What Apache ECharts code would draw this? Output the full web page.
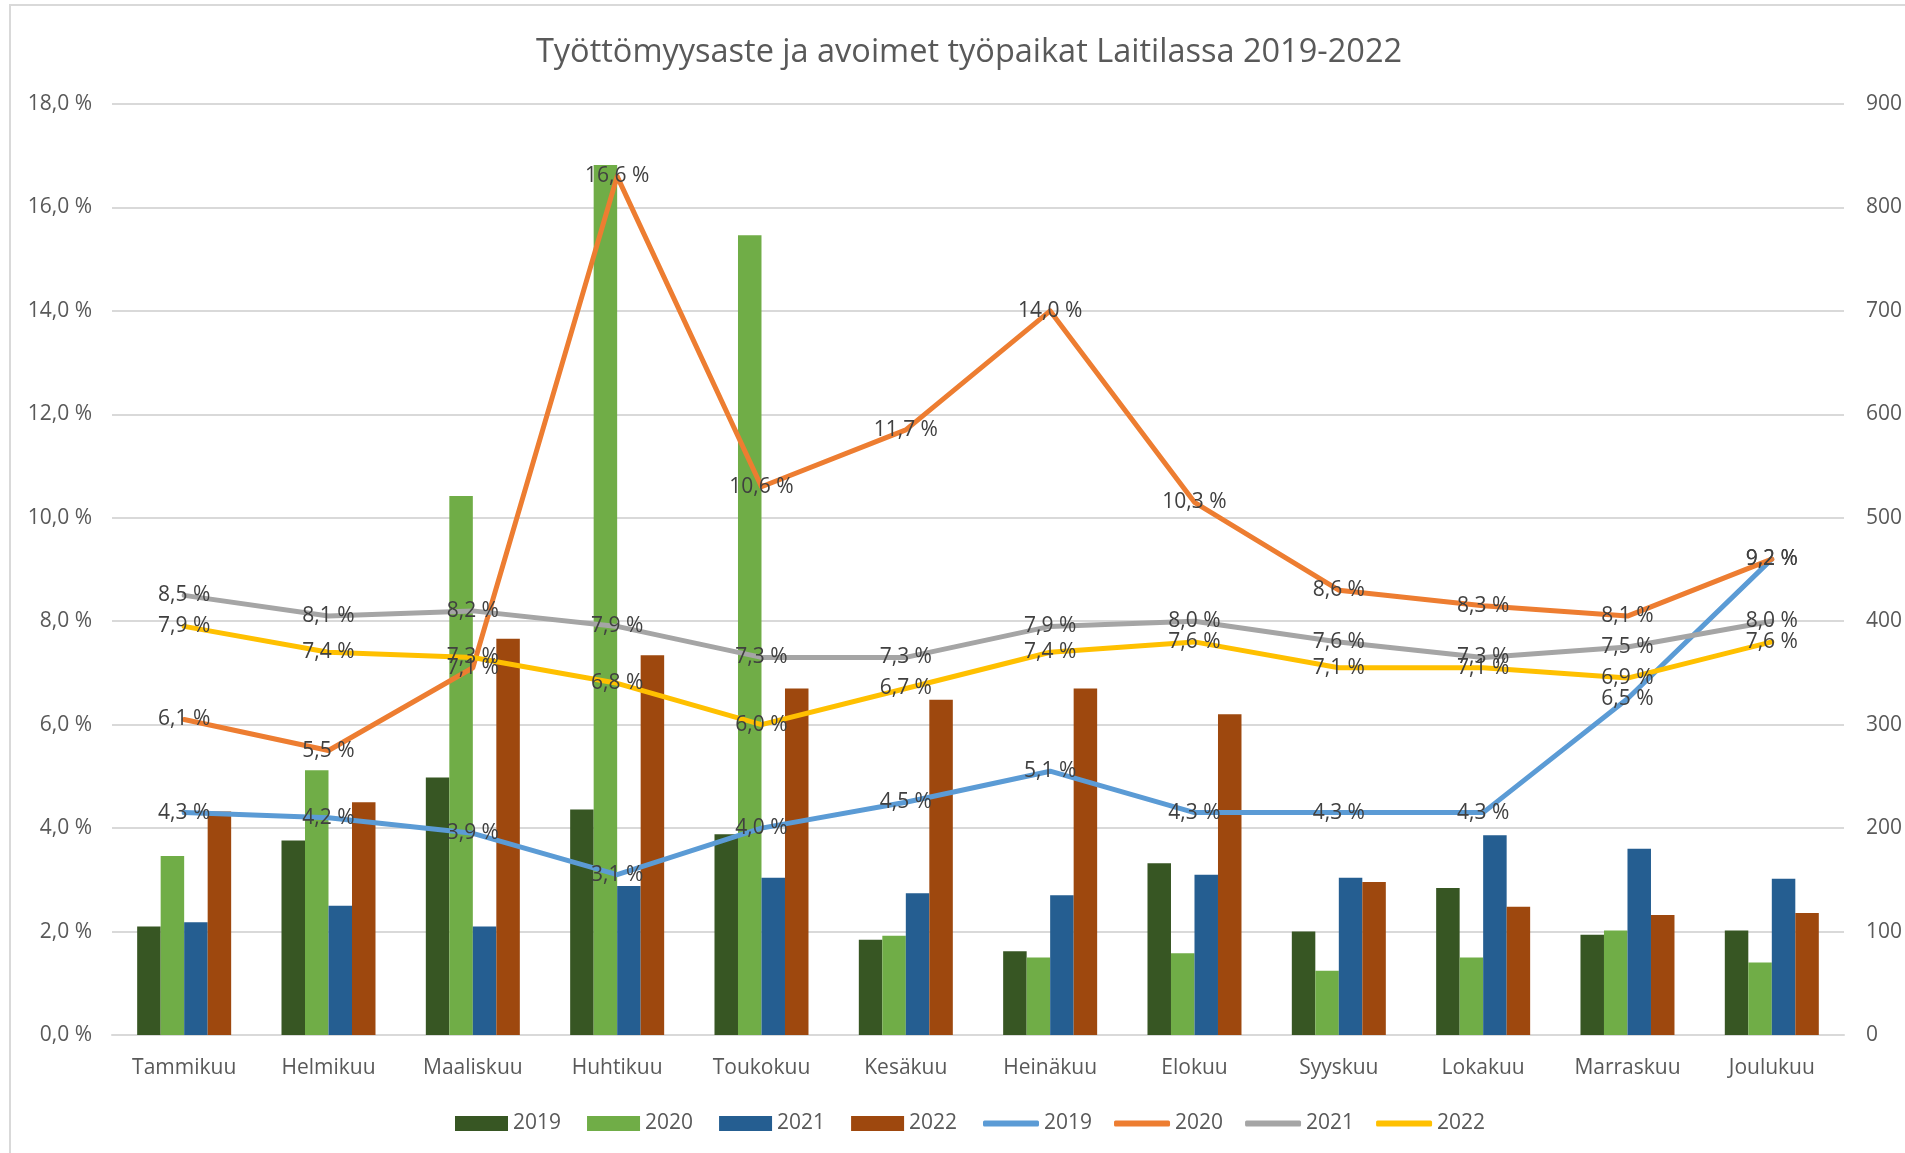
<!DOCTYPE html>
<html>
<head>
<meta charset="utf-8">
<title>Työttömyysaste ja avoimet työpaikat Laitilassa 2019-2022</title>
<script src="https://cdn.jsdelivr.net/npm/echarts/dist/echarts.min.js"></script>
<style>
    html, body { margin: 0; padding: 0; background: #fff; }
    #main { width: 1905px; height: 1153px; }
</style>
</head>
<body>
<div id="main"></div>
<script type="text/javascript">
    // kuukaudet
    var months = ['Tammikuu', 'Helmikuu', 'Maaliskuu', 'Huhtikuu', 'Toukokuu', 'Kesäkuu',
        'Heinäkuu', 'Elokuu', 'Syyskuu', 'Lokakuu', 'Marraskuu', 'Joulukuu'];
    var years = ['2019', '2020', '2021', '2022'];

    // avoimet työpaikat (oikea akseli)
    var jobs2019 = [105, 188, 249, 218, 194, 92, 81, 166, 100, 142, 97, 101];
    var jobs2020 = [173, 256, 521, 841, 773, 96, 75, 79, 62, 75, 101, 70];
    var jobs2021 = [109, 125, 105, 144, 152, 137, 135, 155, 152, 193, 180, 151];
    var jobs2022 = [216, 225, 383, 367, 335, 324, 335, 310, 148, 124, 116, 118];

    // työttömyysaste % (vasen akseli)
    var rate2019 = [4.3, 4.2, 3.9, 3.1, 4.0, 4.5, 5.1, 4.3, 4.3, 4.3, 6.5, 9.2];
    var rate2020 = [6.1, 5.5, 7.1, 16.6, 10.6, 11.7, 14.0, 10.3, 8.6, 8.3, 8.1, 9.2];
    var rate2021 = [8.5, 8.1, 8.2, 7.9, 7.3, 7.3, 7.9, 8.0, 7.6, 7.3, 7.5, 8.0];
    var rate2022 = [7.9, 7.4, 7.3, 6.8, 6.0, 6.7, 7.4, 7.6, 7.1, 7.1, 6.9, 7.6];

    var barColors = ['#375623', '#70AD47', '#255E91', '#9E480E'];
    var lineColors = ['#5B9BD5', '#ED7D31', '#A5A5A5', '#FFC000'];
    var font = '"Open Sans", "Noto Sans", sans-serif';

    function pct(v) {
        return v.toFixed(1).replace('.', ',') + ' %';
    }

    var jobs = [jobs2019, jobs2020, jobs2021, jobs2022];
    var rates = [rate2019, rate2020, rate2021, rate2022];
    var series = [];
    for (var i = 0; i < 4; i++) {
        series.push({
            name: years[i],
            type: 'bar',
            yAxisIndex: 1,
            barWidth: 23.5,
            barGap: '0%',
            itemStyle: { color: barColors[i] },
            data: jobs[i]
        });
    }
    for (var j = 0; j < 4; j++) {
        series.push({
            name: 'L' + years[j],
            type: 'line',
            yAxisIndex: 0,
            symbol: 'circle',
            symbolSize: 2,
            itemStyle: { color: lineColors[j] },
            lineStyle: { color: lineColors[j], width: 5, cap: 'round', join: 'round' },
            label: {
                show: true,
                position: 'inside',
                color: '#404040',
                fontSize: 21,
                fontFamily: font,
                formatter: function (p) { return pct(p.value); }
            },
            data: rates[j]
        });
    }

    var chart = echarts.init(document.getElementById('main'));
    var option = {
        animation: false,
        backgroundColor: '#fff',
        title: {
            text: 'Työttömyysaste ja avoimet työpaikat Laitilassa 2019-2022',
            left: 964,
            textAlign: 'center',
            top: 31,
            textStyle: { color: '#595959', fontSize: 32.5, fontWeight: 'normal', fontFamily: font }
        },
        graphic: [{
            type: 'rect',
            shape: { x: 10, y: 5, width: 1920, height: 1200 },
            style: { fill: 'none', stroke: '#d9d9d9', lineWidth: 2 },
            silent: true
        }],
        legend: [{
            data: years,
            left: 450,
            top: 1108,
            itemWidth: 53,
            itemHeight: 15,
            itemGap: 26,
            icon: 'rect',
            textStyle: { color: '#595959', fontSize: 21, fontFamily: font }
        }, {
            data: years.map(function (y) { return 'L' + y; }),
            left: 978,
            top: 1108,
            itemWidth: 56,
            itemHeight: 6,
            itemGap: 22,
            icon: 'roundRect',
            formatter: function (name) { return name.substring(1); },
            textStyle: { color: '#595959', fontSize: 21, fontFamily: font }
        }],
        grid: { left: 112, right: 61, top: 104, bottom: 118 },
        xAxis: {
            type: 'category',
            data: months,
            axisTick: { show: false },
            axisLine: { lineStyle: { color: '#d9d9d9', width: 2 } },
            axisLabel: { color: '#595959', fontSize: 21, fontFamily: font, margin: 23 }
        },
        yAxis: [{
            type: 'value',
            min: 0,
            max: 18,
            interval: 2,
            axisLine: { show: false },
            axisTick: { show: false },
            splitLine: { lineStyle: { color: '#d9d9d9', width: 2 } },
            axisLabel: {
                color: '#595959', fontSize: 21, fontFamily: font, margin: 20,
                formatter: function (v) { return pct(v); }
            }
        }, {
            type: 'value',
            min: 0,
            max: 900,
            interval: 100,
            axisLine: { show: false },
            axisTick: { show: false },
            splitLine: { show: false },
            axisLabel: { color: '#595959', fontSize: 21, fontFamily: font, margin: 22 }
        }],
        series: series
    };
    chart.setOption(option);
</script>
</body>
</html>
